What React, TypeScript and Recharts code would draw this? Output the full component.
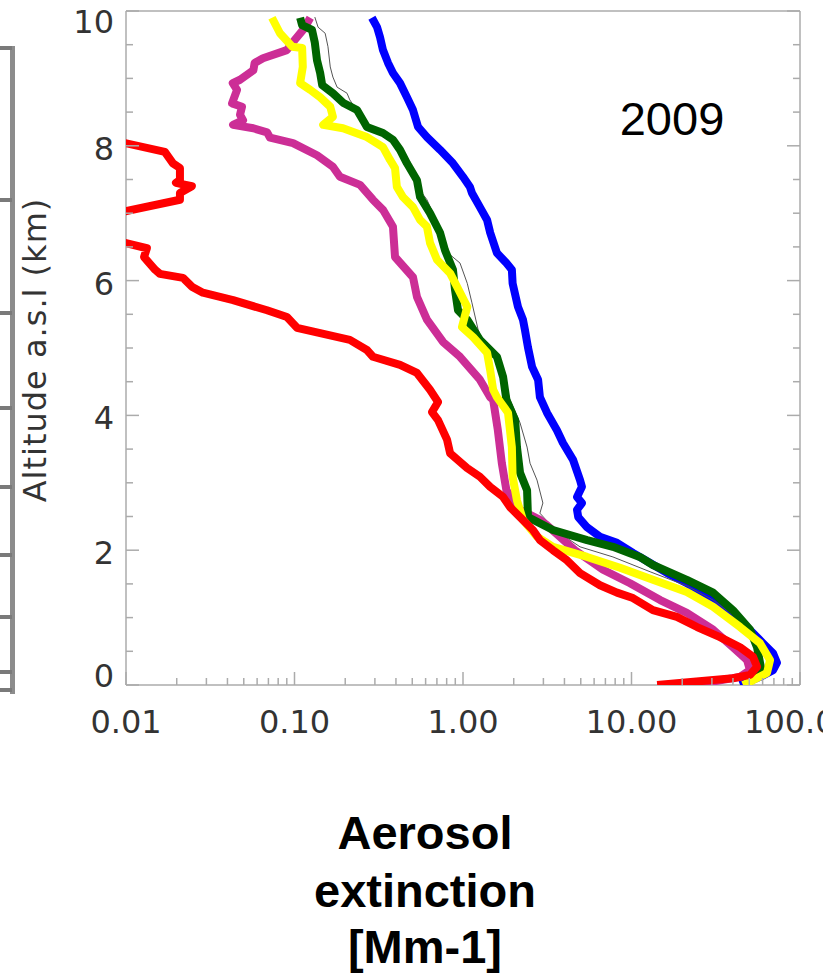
import React from 'react';
import { ScatterChart, Scatter, XAxis, YAxis } from 'recharts';

// aerosol extinction profiles, 2009 (ext in Mm-1, alt in km)
const redUpper = [
  { ext: 0.0095, alt: 8.05 }, { ext: 0.017, alt: 7.91 }, { ext: 0.019, alt: 7.74 }, { ext: 0.0209, alt: 7.67 },
  { ext: 0.0209, alt: 7.49 }, { ext: 0.0198, alt: 7.45 }, { ext: 0.0246, alt: 7.4 }, { ext: 0.0209, alt: 7.3 },
  { ext: 0.0209, alt: 7.2 }, { ext: 0.0095, alt: 7.02 },
];

const redLower = [
  { ext: 0.0095, alt: 6.57 }, { ext: 0.0133, alt: 6.48 }, { ext: 0.0128, alt: 6.35 }, { ext: 0.0149, alt: 6.16 },
  { ext: 0.0159, alt: 6.1 }, { ext: 0.0218, alt: 6.04 }, { ext: 0.0246, alt: 5.91 }, { ext: 0.0286, alt: 5.82 },
  { ext: 0.0432, alt: 5.71 }, { ext: 0.0687, alt: 5.56 }, { ext: 0.0902, alt: 5.46 }, { ext: 0.1035, alt: 5.3 },
  { ext: 0.142, alt: 5.22 }, { ext: 0.213, alt: 5.12 }, { ext: 0.269, alt: 4.97 }, { ext: 0.292, alt: 4.87 },
  { ext: 0.423, alt: 4.75 }, { ext: 0.533, alt: 4.63 }, { ext: 0.637, alt: 4.38 }, { ext: 0.711, alt: 4.2 },
  { ext: 0.655, alt: 4.05 }, { ext: 0.711, alt: 3.93 }, { ext: 0.804, alt: 3.64 }, { ext: 0.838, alt: 3.44 },
  { ext: 1.057, alt: 3.22 }, { ext: 1.26, alt: 3.09 }, { ext: 1.45, alt: 2.94 }, { ext: 1.73, alt: 2.79 },
  { ext: 1.9, alt: 2.64 }, { ext: 2.18, alt: 2.49 }, { ext: 2.6, alt: 2.3 }, { ext: 2.86, alt: 2.15 },
  { ext: 3.42, alt: 2.0 }, { ext: 4.14, alt: 1.85 }, { ext: 4.95, alt: 1.66 }, { ext: 6.5, alt: 1.48 },
  { ext: 8.2, alt: 1.37 }, { ext: 10.2, alt: 1.29 }, { ext: 13.4, alt: 1.11 }, { ext: 18.6, alt: 1.01 },
  { ext: 24.5, alt: 0.86 }, { ext: 33.5, alt: 0.71 }, { ext: 44.1, alt: 0.56 }, { ext: 52.6, alt: 0.42 },
  { ext: 55.6, alt: 0.27 }, { ext: 50.5, alt: 0.15 }, { ext: 40.0, alt: 0.1 }, { ext: 14.2, alt: 0.0 },
];

const magenta = [
  { ext: 0.124, alt: 9.9 }, { ext: 0.115, alt: 9.75 }, { ext: 0.098, alt: 9.54 }, { ext: 0.09, alt: 9.42 },
  { ext: 0.065, alt: 9.3 }, { ext: 0.058, alt: 9.23 }, { ext: 0.057, alt: 9.12 }, { ext: 0.0475, alt: 8.98 },
  { ext: 0.043, alt: 8.93 }, { ext: 0.0456, alt: 8.83 }, { ext: 0.0426, alt: 8.63 }, { ext: 0.0488, alt: 8.58 },
  { ext: 0.0475, alt: 8.46 }, { ext: 0.0495, alt: 8.38 }, { ext: 0.0432, alt: 8.31 }, { ext: 0.057, alt: 8.26 },
  { ext: 0.0687, alt: 8.2 }, { ext: 0.0716, alt: 8.12 }, { ext: 0.098, alt: 8.04 }, { ext: 0.136, alt: 7.86 },
  { ext: 0.169, alt: 7.69 }, { ext: 0.186, alt: 7.54 }, { ext: 0.245, alt: 7.42 }, { ext: 0.292, alt: 7.2 },
  { ext: 0.335, alt: 7.05 }, { ext: 0.384, alt: 6.8 }, { ext: 0.395, alt: 6.35 }, { ext: 0.505, alt: 6.05 },
  { ext: 0.533, alt: 5.76 }, { ext: 0.611, alt: 5.42 }, { ext: 0.761, alt: 5.09 }, { ext: 0.96, alt: 4.87 },
  { ext: 1.26, alt: 4.53 }, { ext: 1.45, alt: 4.27 }, { ext: 1.51, alt: 4.23 }, { ext: 1.61, alt: 3.78 },
  { ext: 1.7, alt: 3.29 }, { ext: 1.81, alt: 2.89 }, { ext: 2.18, alt: 2.6 }, { ext: 2.86, alt: 2.45 },
  { ext: 3.15, alt: 2.37 }, { ext: 4.62, alt: 2.0 }, { ext: 6.78, alt: 1.71 }, { ext: 9.8, alt: 1.51 },
  { ext: 14.8, alt: 1.26 }, { ext: 21.3, alt: 1.07 }, { ext: 30.5, alt: 0.82 }, { ext: 40.0, alt: 0.56 },
  { ext: 48.5, alt: 0.37 }, { ext: 50.5, alt: 0.22 }, { ext: 44.1, alt: 0.12 }, { ext: 23.2, alt: 0.0 },
];

const yellow = [
  { ext: 0.0735, alt: 9.9 }, { ext: 0.082, alt: 9.67 }, { ext: 0.097, alt: 9.47 }, { ext: 0.111, alt: 9.45 },
  { ext: 0.112, alt: 9.17 }, { ext: 0.108, alt: 8.93 }, { ext: 0.124, alt: 8.83 }, { ext: 0.142, alt: 8.72 },
  { ext: 0.163, alt: 8.58 }, { ext: 0.169, alt: 8.43 }, { ext: 0.148, alt: 8.31 }, { ext: 0.194, alt: 8.26 },
  { ext: 0.269, alt: 8.13 }, { ext: 0.335, alt: 7.98 }, { ext: 0.369, alt: 7.79 }, { ext: 0.395, alt: 7.67 },
  { ext: 0.405, alt: 7.39 }, { ext: 0.44, alt: 7.24 }, { ext: 0.505, alt: 7.09 }, { ext: 0.556, alt: 6.9 },
  { ext: 0.611, alt: 6.8 }, { ext: 0.637, alt: 6.56 }, { ext: 0.701, alt: 6.31 }, { ext: 0.838, alt: 6.11 },
  { ext: 0.921, alt: 5.91 }, { ext: 1.06, alt: 5.61 }, { ext: 0.986, alt: 5.31 }, { ext: 1.15, alt: 5.16 },
  { ext: 1.39, alt: 4.93 }, { ext: 1.45, alt: 4.67 }, { ext: 1.51, alt: 4.38 }, { ext: 1.59, alt: 4.27 },
  { ext: 1.85, alt: 4.04 }, { ext: 1.95, alt: 3.53 }, { ext: 1.97, alt: 3.09 }, { ext: 2.09, alt: 2.74 },
  { ext: 2.27, alt: 2.45 }, { ext: 2.75, alt: 2.2 }, { ext: 3.42, alt: 2.05 }, { ext: 5.45, alt: 1.9 },
  { ext: 8.55, alt: 1.74 }, { ext: 13.4, alt: 1.56 }, { ext: 21.3, alt: 1.38 }, { ext: 30.5, alt: 1.16 },
  { ext: 44.1, alt: 0.86 }, { ext: 57.9, alt: 0.62 }, { ext: 66.4, alt: 0.37 }, { ext: 63.7, alt: 0.18 },
  { ext: 52.6, alt: 0.07 }, { ext: 45.9, alt: 0.0 },
];

const green = [
  { ext: 0.108, alt: 9.9 }, { ext: 0.111, alt: 9.79 }, { ext: 0.127, alt: 9.72 }, { ext: 0.132, alt: 9.53 },
  { ext: 0.136, alt: 9.27 }, { ext: 0.142, alt: 9.08 }, { ext: 0.146, alt: 8.9 }, { ext: 0.169, alt: 8.78 },
  { ext: 0.194, alt: 8.64 }, { ext: 0.235, alt: 8.53 }, { ext: 0.255, alt: 8.38 }, { ext: 0.269, alt: 8.28 },
  { ext: 0.335, alt: 8.19 }, { ext: 0.384, alt: 8.09 }, { ext: 0.423, alt: 7.94 }, { ext: 0.465, alt: 7.74 },
  { ext: 0.533, alt: 7.49 }, { ext: 0.556, alt: 7.24 }, { ext: 0.637, alt: 7.0 }, { ext: 0.731, alt: 6.71 },
  { ext: 0.782, alt: 6.45 }, { ext: 0.872, alt: 6.16 }, { ext: 0.897, alt: 5.86 }, { ext: 0.934, alt: 5.56 },
  { ext: 1.06, alt: 5.42 }, { ext: 1.26, alt: 5.12 }, { ext: 1.59, alt: 4.87 }, { ext: 1.73, alt: 4.57 },
  { ext: 1.81, alt: 4.23 }, { ext: 2.04, alt: 3.93 }, { ext: 2.09, alt: 3.53 }, { ext: 2.18, alt: 3.15 },
  { ext: 2.4, alt: 2.89 }, { ext: 2.43, alt: 2.49 }, { ext: 3.42, alt: 2.3 }, { ext: 5.45, alt: 2.15 },
  { ext: 7.76, alt: 2.05 }, { ext: 11.2, alt: 1.9 }, { ext: 13.4, alt: 1.78 }, { ext: 21.3, alt: 1.56 },
  { ext: 30.5, alt: 1.37 }, { ext: 40.0, alt: 1.11 }, { ext: 50.5, alt: 0.82 }, { ext: 55.6, alt: 0.56 },
  { ext: 57.9, alt: 0.33 }, { ext: 59.5, alt: 0.18 }, { ext: 47.2, alt: 0.0 },
];

const black = [
  { ext: 0.132, alt: 9.91 }, { ext: 0.138, alt: 9.76 }, { ext: 0.152, alt: 9.67 }, { ext: 0.158, alt: 9.47 },
  { ext: 0.163, alt: 9.17 }, { ext: 0.169, alt: 9.02 }, { ext: 0.179, alt: 8.87 }, { ext: 0.205, alt: 8.78 },
  { ext: 0.213, alt: 8.68 }, { ext: 0.245, alt: 8.46 }, { ext: 0.269, alt: 8.28 }, { ext: 0.344, alt: 8.13 },
  { ext: 0.405, alt: 8.01 }, { ext: 0.453, alt: 7.86 }, { ext: 0.498, alt: 7.64 }, { ext: 0.556, alt: 7.34 },
  { ext: 0.611, alt: 7.2 }, { ext: 0.664, alt: 7.0 }, { ext: 0.815, alt: 6.41 }, { ext: 0.96, alt: 6.26 },
  { ext: 1.06, alt: 5.96 }, { ext: 1.13, alt: 5.67 }, { ext: 1.23, alt: 5.27 }, { ext: 1.31, alt: 5.09 },
  { ext: 1.59, alt: 4.87 }, { ext: 1.77, alt: 4.53 }, { ext: 1.9, alt: 4.23 }, { ext: 2.18, alt: 3.89 },
  { ext: 2.4, alt: 3.53 }, { ext: 2.5, alt: 3.29 }, { ext: 2.75, alt: 3.04 }, { ext: 2.98, alt: 2.7 },
  { ext: 2.86, alt: 2.55 }, { ext: 3.52, alt: 2.3 }, { ext: 4.95, alt: 2.05 }, { ext: 7.76, alt: 1.9 },
  { ext: 12.9, alt: 1.68 }, { ext: 21.3, alt: 1.47 }, { ext: 30.5, alt: 1.26 }, { ext: 44.1, alt: 0.96 },
  { ext: 54.1, alt: 0.67 }, { ext: 59.5, alt: 0.37 }, { ext: 62.0, alt: 0.19 }, { ext: 51.9, alt: 0.0 },
];

const blue = [
  { ext: 0.288, alt: 9.9 }, { ext: 0.309, alt: 9.76 }, { ext: 0.322, alt: 9.61 }, { ext: 0.335, alt: 9.42 },
  { ext: 0.359, alt: 9.23 }, { ext: 0.384, alt: 9.08 }, { ext: 0.423, alt: 8.93 }, { ext: 0.465, alt: 8.72 },
  { ext: 0.505, alt: 8.53 }, { ext: 0.541, alt: 8.28 }, { ext: 0.611, alt: 8.13 }, { ext: 0.731, alt: 7.94 },
  { ext: 0.872, alt: 7.74 }, { ext: 1.0, alt: 7.54 }, { ext: 1.1, alt: 7.39 }, { ext: 1.13, alt: 7.3 },
  { ext: 1.26, alt: 7.09 }, { ext: 1.39, alt: 6.9 }, { ext: 1.45, alt: 6.71 }, { ext: 1.59, alt: 6.41 },
  { ext: 1.81, alt: 6.26 }, { ext: 1.95, alt: 6.16 }, { ext: 1.97, alt: 5.96 }, { ext: 2.12, alt: 5.61 },
  { ext: 2.27, alt: 5.42 }, { ext: 2.33, alt: 5.27 }, { ext: 2.43, alt: 5.01 }, { ext: 2.57, alt: 4.72 },
  { ext: 2.79, alt: 4.53 }, { ext: 2.86, alt: 4.27 }, { ext: 3.15, alt: 4.04 }, { ext: 3.61, alt: 3.78 },
  { ext: 3.92, alt: 3.59 }, { ext: 4.5, alt: 3.34 }, { ext: 4.95, alt: 3.04 }, { ext: 5.08, alt: 2.94 },
  { ext: 4.75, alt: 2.79 }, { ext: 5.08, alt: 2.7 }, { ext: 4.75, alt: 2.6 }, { ext: 4.83, alt: 2.49 },
  { ext: 5.45, alt: 2.34 }, { ext: 6.5, alt: 2.2 }, { ext: 8.2, alt: 2.11 }, { ext: 10.2, alt: 1.96 },
  { ext: 12.9, alt: 1.81 }, { ext: 16.3, alt: 1.66 }, { ext: 21.3, alt: 1.51 }, { ext: 28.1, alt: 1.31 },
  { ext: 34.9, alt: 1.16 }, { ext: 44.1, alt: 0.96 }, { ext: 52.6, alt: 0.77 }, { ext: 60.3, alt: 0.62 },
  { ext: 69.2, alt: 0.47 }, { ext: 73.0, alt: 0.33 }, { ext: 69.2, alt: 0.22 }, { ext: 57.9, alt: 0.12 },
  { ext: 44.1, alt: 0.0 },
];

const xMajorTicks = [0.01, 0.1, 1, 10, 100];
const xMinorTicks = [
  0.02, 0.03, 0.04, 0.05, 0.06, 0.07, 0.08, 0.09,
  0.2, 0.3, 0.4, 0.5, 0.6, 0.7, 0.8, 0.9,
  2, 3, 4, 5, 6, 7, 8, 9,
  20, 30, 40, 50, 60, 70, 80, 90,
];
const xTickLabels = ['0.01', '0.10', '1.00', '10.00', '100.00'];
const yMajorTicks = [0, 2, 4, 6, 8, 10];
const yMinorTicks = [0.5, 1, 1.5, 2.5, 3, 3.5, 4.5, 5, 5.5, 6.5, 7, 7.5, 8.5, 9, 9.5];

const xAllTicks = [...xMajorTicks, ...xMinorTicks].sort((a, b) => a - b);
const yAllTicks = [...yMajorTicks, ...yMinorTicks].sort((a, b) => a - b);

const AXIS_COLOR = '#ababab';
const TICK_FONT = 'DejaVu Sans';
const XDOMAIN: [number, number] = [0.01, 100];
const YDOMAIN: [number, number] = [0, 10];
const MAJOR = 13;
const MINOR = 7;

// tick renderers draw the inward tick mark and, for majors, the label
const BottomTick = (props: any) => {
  const { x, y, payload } = props;
  const i = xMajorTicks.indexOf(payload.value);
  const len = i >= 0 ? MAJOR : MINOR;
  return (
    <g>
      <line x1={x} y1={y} x2={x} y2={y - len} stroke={AXIS_COLOR} strokeWidth={1.5} />
      {i >= 0 && (
        <text x={x} y={y + 48} textAnchor="middle" fontFamily={TICK_FONT} fontSize={32} fill="#333">
          {xTickLabels[i]}
        </text>
      )}
    </g>
  );
};

const TopTick = (props: any) => {
  const { x, y, payload } = props;
  const len = xMajorTicks.includes(payload.value) ? MAJOR : MINOR;
  return <line x1={x} y1={y} x2={x} y2={y + len} stroke={AXIS_COLOR} strokeWidth={1.5} />;
};

const LeftTick = (props: any) => {
  const { x, y, payload } = props;
  const v = payload.value;
  const major = yMajorTicks.includes(v);
  const dy = v === 10 ? 22 : v === 0 ? 2 : 14;
  return (
    <g>
      <line x1={x} y1={y} x2={x + (major ? MAJOR : MINOR)} y2={y} stroke={AXIS_COLOR} strokeWidth={1.5} />
      {major && (
        <text x={x - 12} y={y + dy} textAnchor="end" fontFamily={TICK_FONT} fontSize={32} fill="#333">
          {v}
        </text>
      )}
    </g>
  );
};

const RightTick = (props: any) => {
  const { x, y, payload } = props;
  const len = yMajorTicks.includes(payload.value) ? MAJOR : MINOR;
  return <line x1={x} y1={y} x2={x - len} y2={y} stroke={AXIS_COLOR} strokeWidth={1.5} />;
};

const noDot = () => <g />;

const thick = (color: string) => ({ stroke: color, strokeWidth: 8, strokeLinejoin: 'round' as const, fill: 'none' });

const leftBarTicks = [48, 200, 313, 408, 487, 555, 617, 672, 690];

export default function App() {
  return (
    <div style={{ position: 'absolute', left: 0, top: 0, width: 823, height: 973, background: '#fff' }}>
      <ScatterChart width={823} height={973} margin={{ top: 0, right: 0, bottom: 228, left: 6 }}>
        <XAxis xAxisId="x" type="number" dataKey="ext" scale="log" domain={XDOMAIN} allowDataOverflow
          ticks={xAllTicks} tick={<BottomTick />} tickLine={false} tickSize={0} tickMargin={0} height={60}
          axisLine={{ stroke: AXIS_COLOR, strokeWidth: 1.5 }} interval={0} />
        <XAxis xAxisId="xt" type="number" scale="log" domain={XDOMAIN} allowDataOverflow orientation="top"
          ticks={xAllTicks} tick={<TopTick />} tickLine={false} tickSize={0} tickMargin={0} height={11}
          axisLine={{ stroke: AXIS_COLOR, strokeWidth: 1.5 }} interval={0} />
        <YAxis yAxisId="y" type="number" dataKey="alt" domain={YDOMAIN} allowDataOverflow
          ticks={yAllTicks} tick={<LeftTick />} tickLine={false} tickSize={0} tickMargin={0} width={120}
          axisLine={{ stroke: AXIS_COLOR, strokeWidth: 1.5 }} interval={0} />
        <YAxis yAxisId="yr" type="number" domain={YDOMAIN} allowDataOverflow orientation="right"
          ticks={yAllTicks} tick={<RightTick />} tickLine={false} tickSize={0} tickMargin={0} width={23}
          axisLine={{ stroke: AXIS_COLOR, strokeWidth: 1.5 }} interval={0} />

        <Scatter xAxisId="x" yAxisId="y" data={blue} shape={noDot} line={thick('#0000ff')} isAnimationActive={false} />
        <Scatter xAxisId="x" yAxisId="y" data={black} shape={noDot}
          line={{ stroke: '#555', strokeWidth: 1, fill: 'none' }} isAnimationActive={false} />
        <Scatter xAxisId="x" yAxisId="y" data={magenta} shape={noDot} line={thick('#cc2e96')} isAnimationActive={false} />
        <Scatter xAxisId="x" yAxisId="y" data={green} shape={noDot} line={thick('#006400')} isAnimationActive={false} />
        <Scatter xAxisId="x" yAxisId="y" data={yellow} shape={noDot} line={thick('#ffff00')} isAnimationActive={false} />
        <Scatter xAxisId="x" yAxisId="y" data={redUpper} shape={noDot} line={thick('#ff0000')} isAnimationActive={false} />
        <Scatter xAxisId="x" yAxisId="y" data={redLower} shape={noDot} line={thick('#ff0000')} isAnimationActive={false} />

        <text x={672} y={135} textAnchor="middle" fontFamily="Liberation Sans" fontSize={47} fill="#000">2009</text>
        <text x={35} y={350} transform="rotate(-90 35 350)" textAnchor="middle" dominantBaseline="central"
          fontFamily={TICK_FONT} fontSize={32} letterSpacing={1} fill="#333">Altitude a.s.l (km)</text>

        <g fontFamily="Liberation Sans" fontWeight="bold" fontSize={47} fill="#000" textAnchor="middle">
          <text x={425} y={849}>Aerosol</text>
          <text x={425} y={907}>extinction</text>
          <text x={425} y={963}>[Mm-1]</text>
        </g>

        {/* cropped neighbouring axis at the left edge */}
        <rect x={10} y={46} width={5} height={648} fill="#8c8c8c" />
        {leftBarTicks.map((t) => (
          <rect key={t} x={0} y={t - 2} width={12} height={4} fill="#7a7a7a" />
        ))}
      </ScatterChart>
    </div>
  );
}
